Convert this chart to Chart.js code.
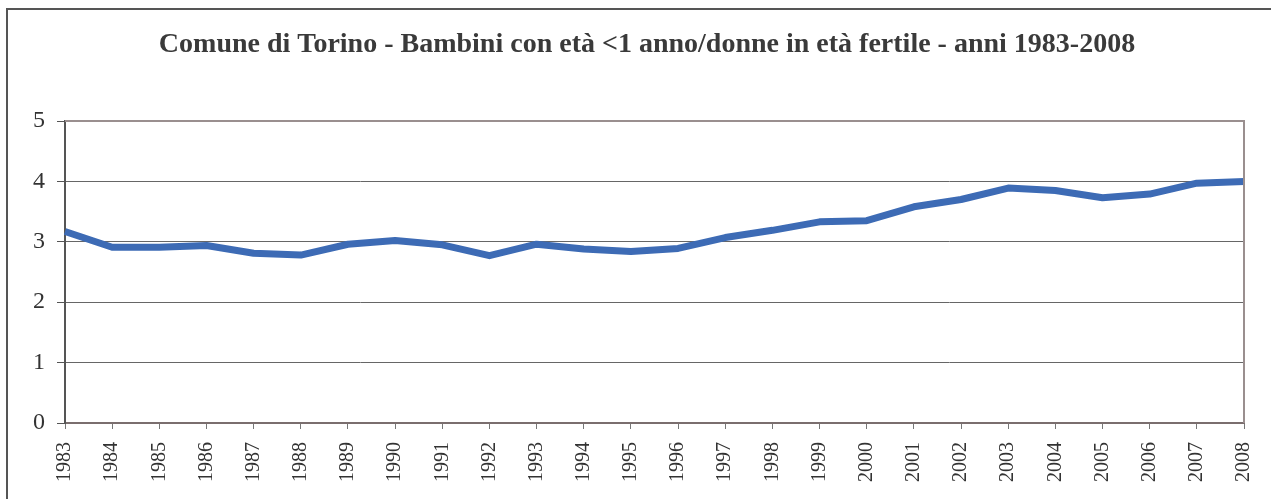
<!DOCTYPE html>
<html>
<head>
<meta charset="utf-8">
<script src="https://cdn.jsdelivr.net/npm/chart.js@4"></script>
<style>
  html, body { margin: 0; padding: 0; background: #fff; }
  #wrap { width: 1271px; height: 499px; position: relative; }
</style>
</head>
<body>
<div id="wrap"><canvas id="myChart" width="1271" height="499"></canvas></div>
<script>
const years = ['1983','1984','1985','1986','1987','1988','1989','1990','1991','1992','1993','1994','1995',
  '1996','1997','1998','1999','2000','2001','2002','2003','2004','2005','2006','2007','2008'];
const ratio = [3.17, 2.91, 2.91, 2.94, 2.81, 2.78, 2.96, 3.02, 2.95, 2.77, 2.96, 2.88, 2.84,
  2.89, 3.07, 3.19, 3.33, 3.35, 3.58, 3.70, 3.89, 3.85, 3.73, 3.79, 3.97, 4.00];
const titleText = 'Comune di Torino - Bambini con età <1 anno/donne in età fertile - anni 1983-2008';

const serif = '"Liberation Serif", "Times New Roman", serif';

// outer frame, title and the top/right plot border
const framePlugin = {
  id: 'frame',
  beforeDraw(chart) {
    const c = chart.ctx;
    c.save();
    c.fillStyle = '#fff';
    c.fillRect(0, 0, chart.width, chart.height);
    c.strokeStyle = '#555';
    c.lineWidth = 2;
    c.beginPath();
    c.moveTo(7, chart.height);
    c.lineTo(7, 9);
    c.lineTo(chart.width, 9);
    c.stroke();

    c.fillStyle = '#3a3a3a';
    c.font = 'bold 28px ' + serif;
    c.textAlign = 'center';
    c.textBaseline = 'middle';
    c.fillText(titleText, 647, 45);
    c.restore();
  },
  afterDatasetsDraw(chart) {
    const a = chart.chartArea;
    const c = chart.ctx;
    c.save();
    c.strokeStyle = '#9a8f8f';
    c.lineWidth = 2;
    c.beginPath();
    c.moveTo(a.left, a.top);
    c.lineTo(a.right, a.top);
    c.lineTo(a.right, a.bottom);
    c.stroke();
    c.restore();
  }
};

const ctx = document.getElementById('myChart');
new Chart(ctx, {
  type: 'line',
  data: {
    labels: years,
    datasets: [{
      data: ratio,
      borderColor: '#3d6bb5',
      borderWidth: 7,
      pointRadius: 0,
      tension: 0,
      borderJoinStyle: 'round',
      clip: false
    }]
  },
  options: {
    responsive: false,
    animation: false,
    layout: { padding: { left: 0, right: 27, top: 121, bottom: 0 } },
    plugins: {
      legend: { display: false },
      tooltip: { enabled: false },
      title: { display: false }
    },
    scales: {
      x: {
        offset: false,
        afterFit(scale) {
          scale.height = 76;
          scale.paddingLeft = 0;
          scale.paddingRight = 0;
        },
        grid: { drawOnChartArea: false, tickLength: 6, tickColor: '#777', tickWidth: 1 },
        border: { color: '#7a6e6e', width: 2 },
        ticks: {
          autoSkip: false,
          minRotation: 90,
          maxRotation: 90,
          padding: 13,
          color: '#333',
          font: { family: serif, size: 20 }
        }
      },
      y: {
        min: 0,
        max: 5,
        afterFit(scale) { scale.width = 65; },
        grid: {
          color: '#666',
          lineWidth: 1,
          tickLength: 8,
          tickColor: '#555'
        },
        border: { color: '#555', width: 2 },
        ticks: {
          stepSize: 1,
          padding: 12,
          color: '#333',
          font: { family: serif, size: 24 }
        }
      }
    }
  },
  plugins: [framePlugin]
});
</script>
</body>
</html>
